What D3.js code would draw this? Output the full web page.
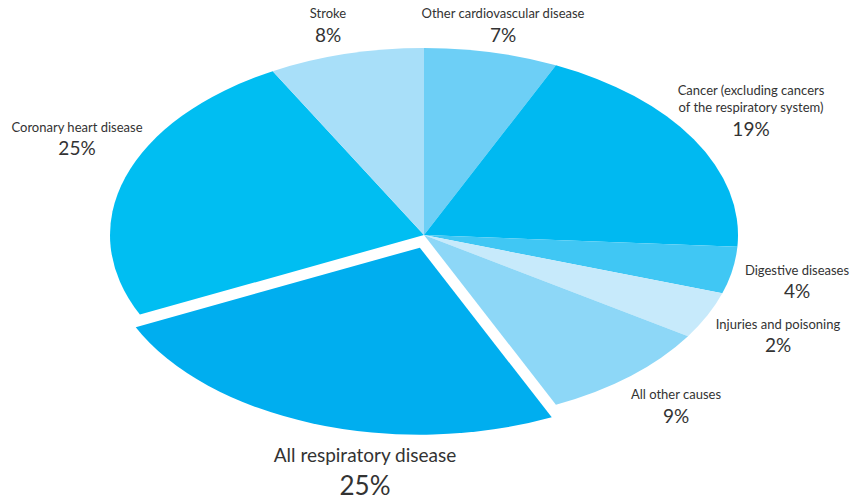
<!DOCTYPE html>
<html>
<head>
<meta charset="utf-8">
<script src="https://cdn.jsdelivr.net/npm/d3@7"></script>
<style>
  html, body { margin: 0; padding: 0; background: #fff; }
  svg { display: block; }
  text { font-family: Lato, "Open Sans", sans-serif; fill: #333; }
</style>
</head>
<body>
<svg id="chart" width="853" height="501"></svg>
<script>
// ---- data (clockwise from 12 o'clock) ----
const categories = [
  "Other cardiovascular disease",
  "Cancer (excluding cancers|of the respiratory system)",
  "Digestive diseases",
  "Injuries and poisoning",
  "All other causes",
  "All respiratory disease",
  "Coronary heart disease",
  "Stroke"
];
// slice sizes as drawn in the picture (share of 100)
const values = [6.9, 19.1, 4.05, 4.05, 9.0, 24.9, 24.0, 8.0];
// percentage labels as printed
const percentLabels = ["7%", "19%", "4%", "2%", "9%", "25%", "25%", "8%"];
const colors = ["#6dcff6", "#00b9f1", "#40c7f4", "#c7eafb", "#8dd7f7", "#00aeef", "#00bef2", "#a8dff9"];
const explodedIndex = 5;

// ---- layout ----
const cx = 424, cy = 235, rx = 314, ry = 187, R = 100;
const sx = rx / R, sy = ry / R;
const explode = 13.3;

// label anchors [x, first baseline, line gap, pct baseline, name size, pct size]
const labelPos = [
  [503, 18, 0, 42, 13, 19],
  [751, 95, 16.7, 136, 13, 19],
  [797, 275, 0, 298, 13, 19],
  [778, 329, 0, 352, 13, 19],
  [676, 399, 0, 423, 13, 19],
  [365, 462, 0, 495, 19, 26],
  [77, 132, 0, 155, 13, 19],
  [328, 18, 0, 42, 13, 19]
];

const svg = d3.select("#chart");
const pie = d3.pie().sort(null).value(d => d).startAngle(0).endAngle(2 * Math.PI);
const arcs = pie(values);
const arcGen = d3.arc().innerRadius(0).outerRadius(R);

function screenDir(a) {
  const x = Math.sin(a) * rx, y = -Math.cos(a) * ry;
  const l = Math.hypot(x, y);
  return [x / l, y / l];
}

const g = svg.append("g");
arcs.forEach((d, i) => {
  let ox = 0, oy = 0;
  if (i === explodedIndex) {
    const u1 = screenDir(d.startAngle), u2 = screenDir(d.endAngle);
    let bx = u1[0] + u2[0], by = u1[1] + u2[1];
    const l = Math.hypot(bx, by);
    ox = bx / l * explode; oy = by / l * explode;
  }
  g.append("path")
    .attr("d", arcGen(d))
    .attr("fill", colors[i])
    .attr("transform", `translate(${cx + ox},${cy + oy}) scale(${sx},${sy})`);
});

// labels
const lg = svg.append("g");
categories.forEach((c, i) => {
  const [x, y, gap, py, ns, ps] = labelPos[i];
  const lines = c.split("|");
  lines.forEach((ln, k) => {
    lg.append("text")
      .attr("x", x).attr("y", y + k * gap)
      .attr("text-anchor", "middle")
      .attr("font-size", ns)
      .text(ln);
  });
  lg.append("text")
    .attr("x", x).attr("y", py)
    .attr("text-anchor", "middle")
    .attr("font-size", ps)
    .text(percentLabels[i]);
});
</script>
</body>
</html>
